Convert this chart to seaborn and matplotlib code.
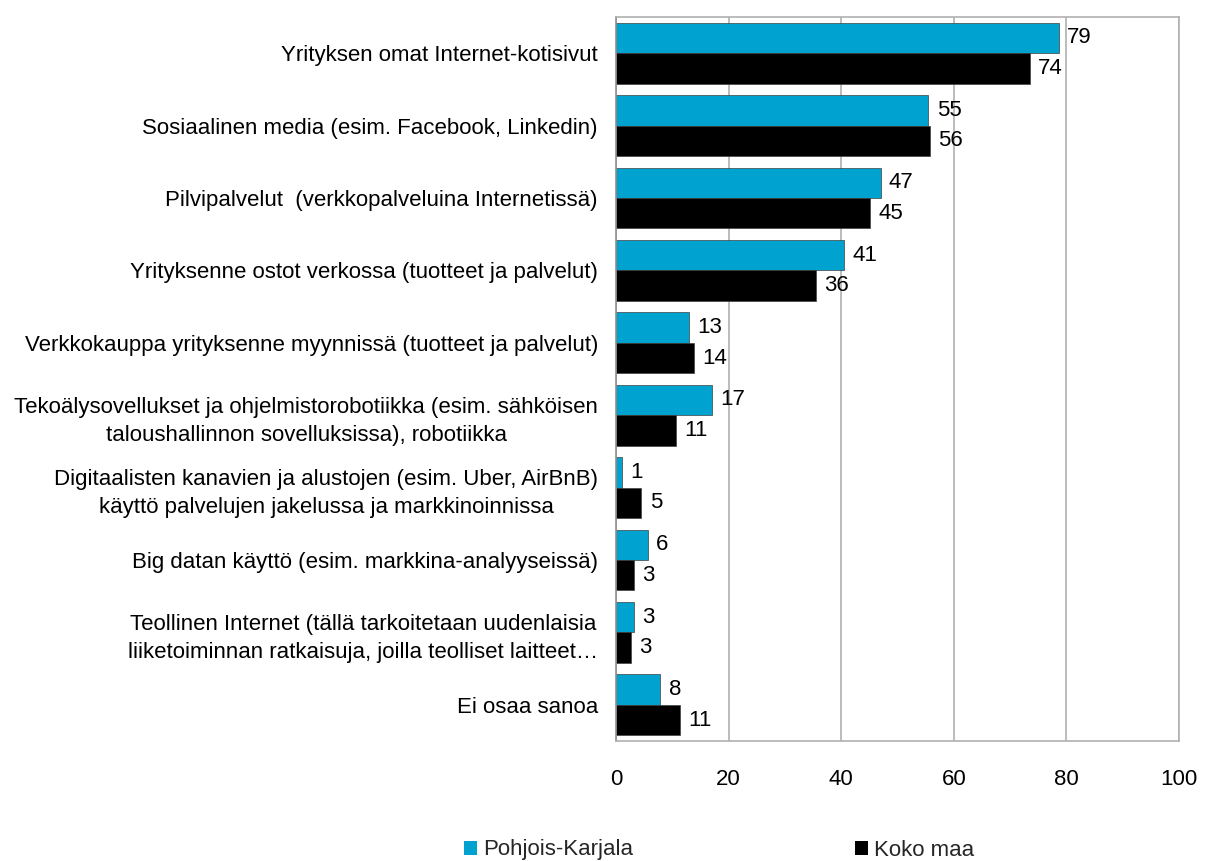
import matplotlib
matplotlib.use("Agg")
import matplotlib.pyplot as plt
import seaborn as sns
import pandas as pd
from matplotlib.patches import Patch

categories = [
    "Yrityksen omat Internet-kotisivut",
    "Sosiaalinen media (esim. Facebook, Linkedin)",
    "Pilvipalvelut  (verkkopalveluina Internetissä)",
    "Yrityksenne ostot verkossa (tuotteet ja palvelut)",
    "Verkkokauppa yrityksenne myynnissä (tuotteet ja palvelut)",
    "Tekoälysovellukset ja ohjelmistorobotiikka (esim. sähköisen\ntaloushallinnon sovelluksissa), robotiikka",
    "Digitaalisten kanavien ja alustojen (esim. Uber, AirBnB)\nkäyttö palvelujen jakelussa ja markkinoinnissa",
    "Big datan käyttö (esim. markkina-analyyseissä)",
    "Teollinen Internet (tällä tarkoitetaan uudenlaisia\nliiketoiminnan ratkaisuja, joilla teolliset laitteet…",
    "Ei osaa sanoa",
]
series_names = ["Pohjois-Karjala", "Koko maa"]
pohjois_karjala = [78.6, 55.5, 47.0, 40.5, 12.9, 17.0, 1.1, 5.6, 3.2, 7.9]
koko_maa = [73.5, 55.7, 45.1, 35.5, 13.8, 10.7, 4.5, 3.2, 2.6, 11.3]
pk_labels = ["79", "55", "47", "41", "13", "17", "1", "6", "3", "8"]
km_labels = ["74", "56", "45", "36", "14", "11", "5", "3", "3", "11"]
colors = ["#00A3CF", "#000000"]

df = pd.DataFrame({
    "cat": categories * 2,
    "value": pohjois_karjala + koko_maa,
    "series": [series_names[0]] * len(categories) + [series_names[1]] * len(categories),
})

sns.set_theme(style="white")
plt.rcParams["font.family"] = ["Liberation Sans", "DejaVu Sans"]

FS = 16
fig = plt.figure(figsize=(12.16, 8.61), dpi=100)
ax = fig.add_axes([616 / 1216, 1 - 741 / 861, (1179 - 616) / 1216, (741 - 17) / 861])

sns.barplot(data=df, y="cat", x="value", hue="series", orient="h",
            palette=colors, saturation=1, width=0.84, edgecolor="#404040", linewidth=0.5,
            ax=ax, legend=False)

ax.set_xlim(0, 100)
ax.set_xticks([0, 20, 40, 60, 80, 100])
ax.set_xlabel("")
ax.set_ylabel("")
ax.grid(axis="x", color="#b0b0b0", linewidth=1.2)
ax.set_axisbelow(True)
for s in ax.spines.values():
    s.set_visible(True)
    s.set_color("#b0b0b0")
    s.set_linewidth(1.2)
ax.spines["left"].set_color("#909090")
ax.tick_params(axis="x", labelsize=FS, colors="black", pad=20, length=0)
ax.tick_params(axis="y", labelsize=FS, colors="black", pad=13, length=0)
for lbl in ax.get_yticklabels():
    lbl.set_multialignment("center")
    lbl.set_linespacing(1.45)

for cont, labs in zip(ax.containers, [pk_labels, km_labels]):
    ax.bar_label(cont, labels=labs, padding=6, fontsize=FS, color="black")

handles = [Patch(facecolor=c, edgecolor="none") for c in colors]
fig.legend(handles, series_names, loc="center left", bbox_to_anchor=(464 / 1216, 1 - 850 / 861),
           ncol=2, frameon=False, fontsize=FS, handlelength=0.6, handleheight=0.6,
           handletextpad=0.25, columnspacing=10.0, borderpad=0, borderaxespad=0)

fig.savefig("out.png", dpi=100)
